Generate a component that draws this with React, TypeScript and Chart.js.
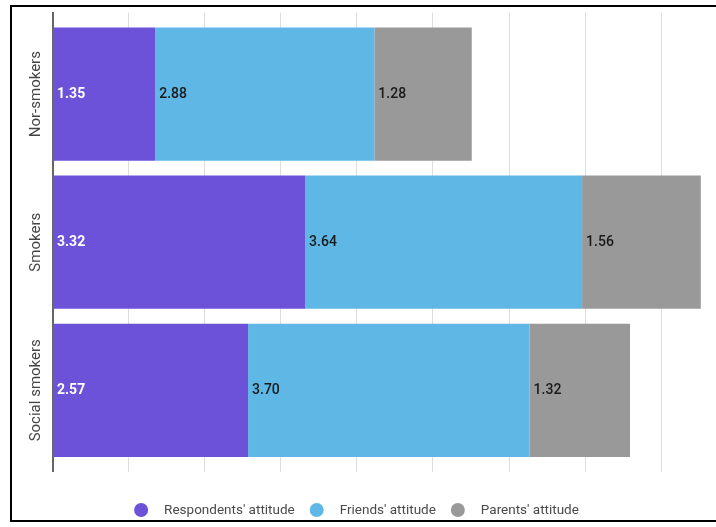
import React, { useEffect, useRef } from "react";
import { Chart, registerables } from "chart.js";

Chart.register(...registerables);

// Attitude scores per smoker group
const groups = ["Nor-smokers", "Smokers", "Social smokers"];
const respondents = [1.35, 3.32, 2.57];
const friends = [2.88, 3.64, 3.7];
const parents = [1.28, 1.56, 1.32];
const seriesNames = ["Respondents' attitude", "Friends' attitude", "Parents' attitude"];
const seriesColors = ["#6b52d9", "#5eb7e5", "#999999"];
const seriesLabelColors = ["#ffffff", "#1a1a1a", "#1a1a1a"];
const seriesLabelWeights = ["bold", "500", "500"];
const xTickValues = [0, 1, 2, 3, 4, 5, 6, 7, 8, 9];

const CANVAS_W = 760;
const CANVAS_H = 527;

// Category names drawn vertically, left of the bars
const groupLabelPlugin = {
  id: "groupLabels",
  afterDraw(chart: any) {
    const { ctx } = chart;
    const yScale = chart.scales.y;
    ctx.save();
    ctx.font = "15px Roboto";
    ctx.fillStyle = "#444444";
    ctx.textAlign = "center";
    ctx.textBaseline = "middle";
    groups.forEach((g, i) => {
      const y = yScale.getPixelForValue(i);
      ctx.save();
      ctx.translate(36.5, y);
      ctx.rotate(-Math.PI / 2);
      ctx.fillText(g, 0, 0);
      ctx.restore();
    });
    ctx.restore();
  },
};

// Value printed at the start of each segment
const valueLabelPlugin = {
  id: "valueLabels",
  afterDatasetsDraw(chart: any) {
    const { ctx } = chart;
    ctx.save();
    ctx.textAlign = "left";
    ctx.textBaseline = "middle";
    chart.data.datasets.forEach((ds: any, di: number) => {
      const meta = chart.getDatasetMeta(di);
      ctx.font = `${seriesLabelWeights[di]} 14px Roboto`;
      ctx.fillStyle = seriesLabelColors[di];
      meta.data.forEach((bar: any, i: number) => {
        const v = ds.data[i].x;
        const left = Math.min(bar.x, bar.base);
        ctx.fillText(v.toFixed(2), left + 4, bar.y + 0.5);
      });
    });
    ctx.restore();
  },
};

// Circle-marker legend centred under the plot
const legendPlugin = {
  id: "circleLegend",
  afterDraw(chart: any) {
    const { ctx } = chart;
    ctx.save();
    ctx.font = "13.5px Roboto";
    ctx.textBaseline = "middle";
    ctx.textAlign = "left";
    const r = 7;
    const toText = 16;
    const between = 15;
    const widths = seriesNames.map((n) => ctx.measureText(n).width);
    const total =
      widths.reduce((a, w) => a + 2 * r + toText + w, 0) + between * (seriesNames.length - 1);
    let x = 356.5 - total / 2;
    const y = 510;
    seriesNames.forEach((n, i) => {
      ctx.fillStyle = seriesColors[i];
      ctx.beginPath();
      ctx.arc(x + r, y, r, 0, Math.PI * 2);
      ctx.fill();
      ctx.fillStyle = "#4a4a4a";
      ctx.fillText(n, x + 2 * r + toText, y + 0.5);
      x += 2 * r + toText + widths[i] + between;
    });
    ctx.restore();
  },
};

export default function App() {
  const canvasRef = useRef<HTMLCanvasElement | null>(null);

  useEffect(() => {
    const canvas = canvasRef.current;
    if (!canvas) return;
    const series = [respondents, friends, parents];
    const chart = new Chart(canvas, {
      type: "bar",
      data: {
        datasets: series.map((vals, si) => ({
          label: seriesNames[si],
          data: vals.map((v, i) => ({ x: v, y: i })),
          backgroundColor: seriesColors[si],
          borderWidth: 0,
          barPercentage: 0.9,
          categoryPercentage: 1,
        })),
      },
      options: {
        indexAxis: "y",
        responsive: false,
        animation: false,
        devicePixelRatio: 1,
        layout: { padding: { left: 0, top: 12.7, right: CANVAS_W - 737.3, bottom: CANVAS_H - 471.7 } },
        plugins: {
          legend: { display: false },
          tooltip: { enabled: false },
          title: { display: false },
        },
        scales: {
          x: {
            type: "linear",
            stacked: true,
            min: 0,
            max: 9,
            afterBuildTicks: (scale: any) => {
              scale.ticks = xTickValues.map((v) => ({ value: v }));
            },
            afterFit: (scale: any) => {
              scale.height = 0;
            },
            ticks: { display: false },
            grid: { color: "#dddddd", lineWidth: 1, drawTicks: false },
            border: { display: false },
          },
          y: {
            type: "linear",
            stacked: true,
            reverse: true,
            offset: false,
            min: -0.55,
            max: 2.55,
            afterBuildTicks: (scale: any) => {
              scale.ticks = groups.map((_, i) => ({ value: i }));
            },
            afterFit: (scale: any) => {
              scale.width = 52.5;
            },
            ticks: { display: false },
            grid: { display: false, drawTicks: false, offset: false },
            border: { display: true, color: "#666666", width: 2 },
          },
        },
      },
      plugins: [groupLabelPlugin, valueLabelPlugin, legendPlugin],
    } as any);
    return () => chart.destroy();
  }, []);

  return (
    <div
      style={{
        position: "fixed",
        left: 0,
        top: 0,
        width: 716,
        height: 527,
        overflow: "hidden",
        background: "#ffffff",
      }}
    >
      <div
        style={{
          position: "absolute",
          left: 10,
          top: 5,
          width: 800,
          height: 517,
          boxSizing: "border-box",
          border: "2px solid #000000",
        }}
      />
      <canvas
        ref={canvasRef}
        width={CANVAS_W}
        height={CANVAS_H}
        style={{ position: "absolute", left: 0, top: 0, width: CANVAS_W, height: CANVAS_H }}
      />
    </div>
  );
}
